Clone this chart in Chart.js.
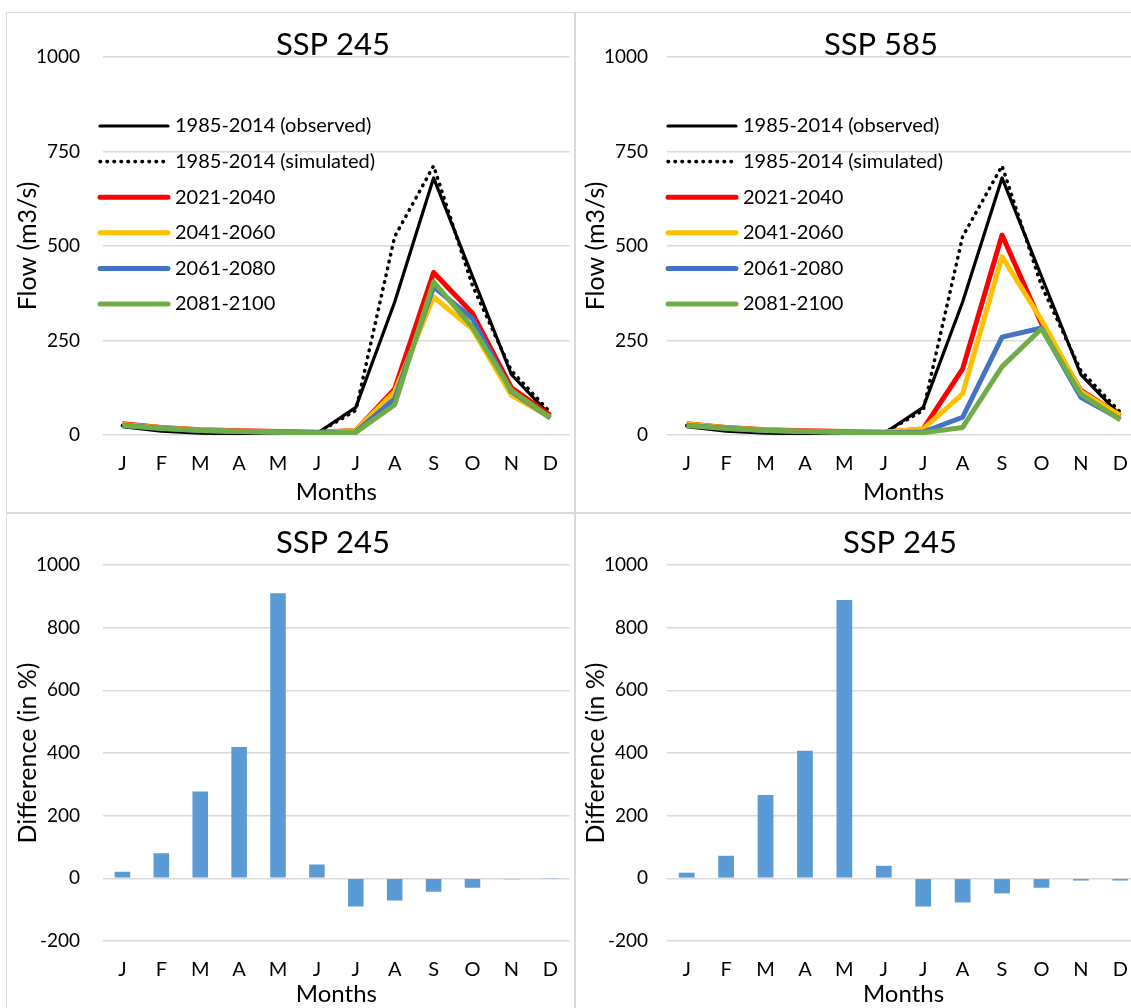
<!DOCTYPE html>
<html>
<head>
<meta charset="utf-8">
<script src="https://cdn.jsdelivr.net/npm/chart.js@4"></script>
<style>
html, body { margin: 0; padding: 0; background: #fff; overflow: hidden; width: 1131px; height: 1008px; }
.panel { position: absolute; border: 1px solid #d9d9d9; box-sizing: border-box; }
canvas { position: absolute; }
</style>
</head>
<body>
<div class="panel" style="left:6px;top:12px;width:570px;height:502px"></div>
<div class="panel" style="left:574px;top:12px;width:600px;height:502px"></div>
<div class="panel" style="left:6px;top:512px;width:570px;height:502px"></div>
<div class="panel" style="left:574px;top:512px;width:600px;height:502px"></div>
<canvas id="flow245" width="568" height="500" style="left:7px;top:13px"></canvas>
<canvas id="flow585" width="600" height="500" style="left:575px;top:13px"></canvas>
<canvas id="diff245" width="568" height="500" style="left:7px;top:513px"></canvas>
<canvas id="diff585" width="600" height="500" style="left:575px;top:513px"></canvas>
<script>
// month labels
var months = ['J', 'F', 'M', 'A', 'M', 'J', 'J', 'A', 'S', 'O', 'N', 'D'];

// 1985-2014 baseline (m3/s)
var observed  = [22, 10, 5, 3, 2, 4, 73, 352, 680, 420, 160, 52];
var simulated = [25, 17, 11, 8, 6, 5, 65, 525, 712, 395, 170, 60];

// SSP 245 projections
var ssp245_2021 = [30, 20, 14, 11, 9, 7, 12, 122, 430, 322, 125, 52];
var ssp245_2041 = [28, 19, 13, 10, 8, 6, 12, 115, 365, 280, 105, 47];
var ssp245_2061 = [26, 18, 12, 9, 7, 6, 8, 96, 392, 308, 115, 45];
var ssp245_2081 = [25, 17, 12, 9, 7, 5, 7, 80, 405, 285, 118, 46];

// SSP 585 projections
var ssp585_2021 = [30, 20, 14, 11, 9, 7, 16, 175, 529, 295, 118, 51];
var ssp585_2041 = [29, 19, 13, 10, 8, 7, 16, 109, 472, 305, 115, 52];
var ssp585_2061 = [26, 18, 12, 9, 7, 6, 8, 47, 259, 283, 100, 42];
var ssp585_2081 = [25, 17, 12, 9, 7, 5, 6, 20, 181, 281, 108, 40];

// difference in %
var diff_left  = [21, 80, 277, 419, 910, 44, -90, -71, -43, -30, -3, -1];
var diff_right = [18, 72, 266, 407, 888, 40, -90, -77, -48, -30, -7, -7];

var FONT = 'Lato';
var GRID = '#d9d9d9';

var panelTitle = {
    id: 'panelTitle',
    afterDraw(chart, args, opts) {
        var ctx = chart.ctx;
        ctx.save();
        ctx.fillStyle = '#000';
        ctx.font = '31px ' + FONT;
        ctx.textAlign = 'center';
        ctx.textBaseline = 'middle';
        ctx.fillText(opts.text, opts.x, opts.y);
        ctx.restore();
    }
};

var insideLegend = {
    id: 'insideLegend',
    afterDatasetsDraw(chart, args, opts) {
        if (!opts.show) return;
        var ctx = chart.ctx;
        ctx.save();
        chart.data.datasets.forEach((ds, i) => {
            var y = opts.y + i * opts.gap;
            ctx.beginPath();
            ctx.strokeStyle = ds.borderColor;
            ctx.lineWidth = ds.borderWidth;
            ctx.lineCap = 'round';
            ctx.setLineDash(ds.borderDash || []);
            ctx.moveTo(opts.x1, y);
            ctx.lineTo(opts.x2, y);
            ctx.stroke();
            ctx.setLineDash([]);
            ctx.fillStyle = '#000';
            ctx.font = '20px ' + FONT;
            ctx.textBaseline = 'middle';
            ctx.fillText(ds.label, opts.tx, y);
        });
        ctx.restore();
    }
};

function lineSet(label, data, color, width, order, dash) {
    return {
        label: label,
        data: data,
        borderColor: color,
        backgroundColor: color,
        borderWidth: width,
        borderDash: dash || [],
        borderCapStyle: dash ? 'round' : 'butt',
        borderJoinStyle: 'round',
        pointRadius: 0,
        tension: 0,
        order: order
    };
}

function make_chart(id, type, datasets, g) {
    var canvas = document.getElementById(id);
    var W = canvas.width, H = canvas.height;
    return new Chart(canvas, {
        type: type,
        data: { labels: months, datasets: datasets },
        options: {
            responsive: false,
            animation: false,
            layout: { padding: { left: 0, top: g.top, right: W - g.right, bottom: 0 } },
            plugins: {
                legend: { display: false },
                tooltip: { enabled: false },
                panelTitle: { text: g.title, x: g.titleX, y: g.titleY },
                insideLegend: { show: g.legend, x1: 93, x2: 161, tx: 168, y: 113, gap: 35.6 }
            },
            scales: {
                x: {
                    offset: true,
                    grid: { display: false, drawTicks: false },
                    border: { display: false },
                    ticks: { color: '#000', padding: 17, font: { family: FONT, size: 20 }, autoSkip: false, maxRotation: 0 },
                    title: { display: true, text: 'Months', color: '#000', font: { family: FONT, size: 24 }, padding: { top: 0, bottom: g.xTitlePad } },
                    afterFit: (scale) => { scale.height = H - g.bottom; }
                },
                y: {
                    min: g.min, max: g.max,
                    grid: { color: GRID, lineWidth: 1.5, drawTicks: false },
                    border: { display: false },
                    ticks: { stepSize: g.step, color: '#000', padding: g.yTickPad, font: { family: FONT, size: 19 }, callback: (v) => String(v) },
                    title: { display: true, text: g.yTitle, color: '#000', font: { family: FONT, size: 25 }, padding: { top: 6, bottom: 0 } },
                    afterFit: (scale) => { scale.width = g.left; }
                }
            }
        },
        plugins: [panelTitle, insideLegend]
    });
}

function flowSets(r, y, b, gr) {
    return [
        lineSet('1985-2014 (observed)', observed, '#000000', 3.2, 5),
        lineSet('1985-2014 (simulated)', simulated, '#000000', 3.6, 4, [0.5, 6.5]),
        lineSet('2021-2040', r, '#ff0000', 5, 3),
        lineSet('2041-2060', y, '#ffc000', 5, 2),
        lineSet('2061-2080', b, '#4472c4', 5, 1),
        lineSet('2081-2100', gr, '#70ad47', 5, 0)
    ];
}

function barSet(data) {
    return [{
        label: 'Difference',
        data: data,
        backgroundColor: '#5b9bd5',
        barPercentage: 0.4,
        categoryPercentage: 1
    }];
}

window.onload = function() {
    make_chart('flow245', 'line', flowSets(ssp245_2021, ssp245_2041, ssp245_2061, ssp245_2081), {
        left: 96, right: 565, top: 44, bottom: 422, min: 0, max: 1000, step: 250,
        yTitle: 'Flow (m3/s)', yTickPad: 23, xTitlePad: 6,
        title: 'SSP 245', titleX: 326, titleY: 32, legend: true
    });
    make_chart('flow585', 'line', flowSets(ssp585_2021, ssp585_2041, ssp585_2061, ssp585_2081), {
        left: 92, right: 565, top: 44, bottom: 422, min: 0, max: 1000, step: 250,
        yTitle: 'Flow (m3/s)', yTickPad: 19, xTitlePad: 6,
        title: 'SSP 585', titleX: 306, titleY: 32, legend: true
    });
    make_chart('diff245', 'bar', barSet(diff_left), {
        left: 96, right: 565, top: 52, bottom: 428, min: -200, max: 1000, step: 200,
        yTitle: 'Difference (in %)', yTickPad: 23, xTitlePad: 4,
        title: 'SSP 245', titleX: 326, titleY: 30, legend: false
    });
    make_chart('diff585', 'bar', barSet(diff_right), {
        left: 92, right: 565, top: 52, bottom: 428, min: -200, max: 1000, step: 200,
        yTitle: 'Difference (in %)', yTickPad: 19, xTitlePad: 4,
        title: 'SSP 245', titleX: 325, titleY: 30, legend: false
    });
};
</script>
</body>
</html>
